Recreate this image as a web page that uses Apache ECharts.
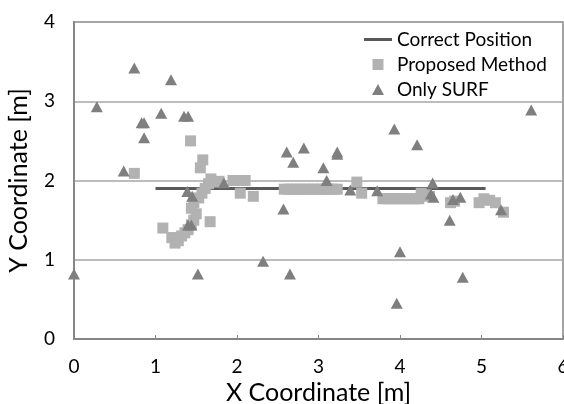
<!DOCTYPE html>
<html>
<head>
<meta charset="utf-8">
<script src="https://cdn.jsdelivr.net/npm/echarts@6/dist/echarts.min.js"></script>
<style>
html,body{margin:0;padding:0;background:#fff;}
#chart{width:564px;height:404px;}
</style>
</head>
<body>
<div id="chart"></div>
<script>
var xTicks = [0, 1, 2, 3, 4, 5, 6];
var yTicks = [0, 1, 2, 3, 4];

var correctPosition = [[1.0, 1.9], [5.05, 1.9]];

var proposedMethod = [
  [0.74, 2.09], [1.43, 2.50], [1.58, 2.26], [1.55, 2.16], [1.09, 1.40],
  [1.20, 1.28], [1.24, 1.21], [1.28, 1.24], [1.32, 1.30], [1.36, 1.34],
  [1.40, 1.38], [1.44, 1.44], [1.47, 1.50], [1.50, 1.58], [1.44, 1.65],
  [1.47, 1.72], [1.53, 1.78], [1.57, 1.84], [1.61, 1.90], [1.65, 1.96],
  [1.68, 2.02], [1.72, 1.98], [1.67, 1.48], [1.78, 1.99], [1.95, 2.00],
  [2.04, 2.00], [2.10, 2.00], [2.04, 1.84], [2.20, 1.80],
  [2.58, 1.89], [2.63, 1.89], [2.68, 1.89], [2.73, 1.89], [2.78, 1.89],
  [2.83, 1.89], [2.88, 1.89], [2.93, 1.89], [2.98, 1.89], [3.03, 1.89],
  [3.08, 1.89], [3.13, 1.89], [3.18, 1.89], [3.23, 1.89],
  [3.47, 1.98], [3.53, 1.84],
  [3.79, 1.77], [3.84, 1.77], [3.89, 1.77], [3.94, 1.77], [3.99, 1.77],
  [4.04, 1.77], [4.09, 1.77], [4.14, 1.77], [4.19, 1.77], [4.23, 1.77],
  [4.26, 1.84], [4.32, 1.82], [4.36, 1.80],
  [4.62, 1.72], [4.67, 1.74],
  [4.97, 1.72], [5.03, 1.77], [5.10, 1.75], [5.17, 1.72], [5.27, 1.60]
];

var onlySurf = [
  [0.00, 0.82], [0.28, 2.93], [0.61, 2.12], [0.74, 3.42], [0.83, 2.73],
  [0.86, 2.73], [0.86, 2.54], [1.07, 2.85], [1.19, 3.27], [1.35, 2.81],
  [1.40, 2.81], [1.39, 1.86], [1.45, 1.80], [1.40, 1.44], [1.44, 1.44],
  [1.52, 0.82], [1.84, 1.97], [2.32, 0.98], [2.57, 1.64], [2.61, 2.36],
  [2.65, 0.82], [2.69, 2.23], [2.82, 2.41], [3.06, 2.16], [3.10, 2.00],
  [3.23, 2.36], [3.23, 2.33], [3.39, 1.88], [3.72, 1.87], [3.93, 2.65],
  [3.96, 0.45], [4.00, 1.10], [4.21, 2.45], [4.38, 1.83], [4.40, 1.97],
  [4.41, 1.79], [4.61, 1.50], [4.65, 1.76], [4.74, 1.79], [4.77, 0.78],
  [5.24, 1.63], [5.61, 2.89]
];

var FONT = 'Lato';
var chart = echarts.init(document.getElementById('chart'), null, {renderer: 'canvas'});
chart.setOption({
  animation: false,
  backgroundColor: '#ffffff',
  textStyle: {fontFamily: FONT},
  grid: {
    left: 74, right: 1, top: 22, bottom: 65,
    outerBoundsMode: 'none', containLabel: false,
    show: true, borderColor: '#868686', borderWidth: 1.5, backgroundColor: 'transparent'
  },
  legend: {
    orient: 'vertical',
    left: 359, top: 25,
    itemWidth: 28, itemHeight: 11, itemGap: 6,
    symbolKeepAspect: true,
    textStyle: {fontFamily: FONT, fontSize: 19, color: '#000'},
    data: [
      {name: 'Correct Position', icon: 'path://M0,0h28v3h-28z', itemStyle: {color: '#595959'}},
      {name: 'Proposed Method', icon: 'path://M0,0h9v9h-9z', itemStyle: {color: '#b2b2b2'}},
      {name: 'Only SURF', icon: 'path://M6,0L12,11L0,11Z', itemStyle: {color: '#7f7f7f'}}
    ]
  },
  xAxis: {
    type: 'value', min: xTicks[0], max: xTicks[xTicks.length - 1], interval: 1,
    name: 'X Coordinate [m]', nameLocation: 'middle', nameGap: 40,
    nameTextStyle: {fontFamily: FONT, fontSize: 25, color: '#000'},
    axisLine: {show: true, lineStyle: {color: '#868686', width: 2}},
    axisTick: {show: true, inside: true, length: 4, lineStyle: {color: '#868686', width: 1}},
    axisLabel: {fontFamily: FONT, fontSize: 19, color: '#000', margin: 18},
    splitLine: {show: false}
  },
  yAxis: {
    type: 'value', min: yTicks[0], max: yTicks[yTicks.length - 1], interval: 1,
    name: 'Y Coordinate [m]', nameLocation: 'middle', nameGap: 43,
    nameTextStyle: {fontFamily: FONT, fontSize: 25, color: '#000'},
    axisLine: {show: true, lineStyle: {color: '#868686', width: 2}},
    axisTick: {show: false},
    axisLabel: {fontFamily: FONT, fontSize: 19, color: '#000', margin: 19},
    splitLine: {show: true, lineStyle: {color: '#a6a6a6', width: 1.5}}
  },
  series: [
    {
      name: 'Correct Position', type: 'line', data: correctPosition,
      symbol: 'none', lineStyle: {color: '#595959', width: 3}, itemStyle: {color: '#595959'}, z: 2
    },
    {
      name: 'Proposed Method', type: 'scatter', data: proposedMethod,
      symbol: 'rect', symbolSize: 11, itemStyle: {color: '#b2b2b2', opacity: 1}, z: 3
    },
    {
      name: 'Only SURF', type: 'scatter', data: onlySurf,
      symbol: 'triangle', symbolSize: [12, 11], itemStyle: {color: '#7f7f7f', opacity: 1}, z: 4
    }
  ]
});
</script>
</body>
</html>
